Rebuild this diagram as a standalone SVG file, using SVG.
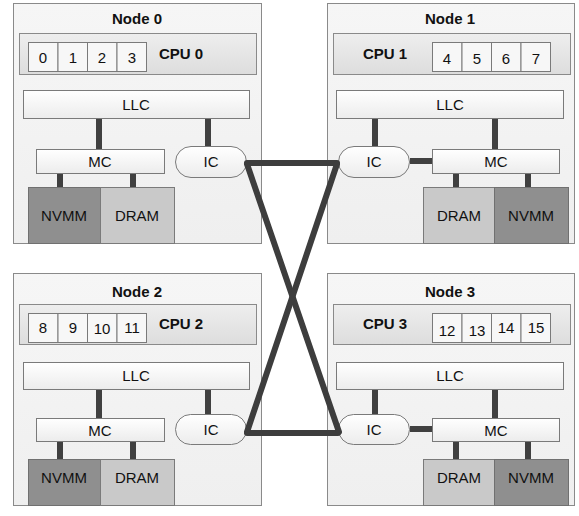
<svg xmlns="http://www.w3.org/2000/svg" width="579" height="516" viewBox="0 0 579 516">
<defs>
  <linearGradient id="gBox" x1="0" y1="0" x2="0" y2="1">
    <stop offset="0" stop-color="#ffffff"/>
    <stop offset="1" stop-color="#ececec"/>
  </linearGradient>
  <linearGradient id="gCpu" x1="0" y1="0" x2="0" y2="1">
    <stop offset="0" stop-color="#eeeeee"/>
    <stop offset="1" stop-color="#dddddd"/>
  </linearGradient>
  <linearGradient id="gNode" x1="0" y1="0" x2="0" y2="1">
    <stop offset="0" stop-color="#f6f6f6"/>
    <stop offset="1" stop-color="#efefef"/>
  </linearGradient>
</defs>
<style>
  .node { fill: url(#gNode); stroke: #8a8a8a; stroke-width: 1; }
  .cpu { fill: url(#gCpu); stroke: #8a8a8a; stroke-width: 1; }
  .box { fill: url(#gBox); stroke: #7a7a7a; stroke-width: 1; }
  .core { fill: #f7f7f7; stroke: #7a7a7a; stroke-width: 1; }
  .nvmm { fill: #8f8f8f; stroke: #707070; stroke-width: 1; }
  .dram { fill: #c9c9c9; stroke: #7a7a7a; stroke-width: 1; }
  text { font-family: "Liberation Sans", Arial, sans-serif; font-size: 15px; fill: #111111; text-anchor: middle; }
  .b { font-weight: bold; }
  .lnk { stroke: #404040; stroke-width: 6; fill: none; }
  .x { stroke: #3d3d3d; stroke-width: 6; fill: none; stroke-linecap: round; stroke-linejoin: round; }
</style>

<g id="node0">
  <rect class="node" x="13.5" y="3.5" width="248" height="240"/>
  <text class="b" x="137" y="24">Node 0</text>
  <rect class="cpu" x="19.5" y="33.5" width="237" height="41"/>
  <rect class="core" x="28.5" y="42.5" width="29.5" height="29"/>
  <rect class="core" x="58" y="42.5" width="29.5" height="29"/>
  <rect class="core" x="87.5" y="42.5" width="29.5" height="29"/>
  <rect class="core" x="117" y="42.5" width="29.5" height="29"/>
  <text x="43" y="63">0</text><text x="73" y="63">1</text><text x="102" y="63">2</text><text x="132" y="63">3</text>
  <text class="b" x="181" y="59">CPU 0</text>
  <rect class="box" x="23.5" y="90.5" width="226" height="28"/>
  <text x="136" y="110">LLC</text>
  <rect class="box" x="36.5" y="149.5" width="128" height="24"/>
  <text x="100" y="167">MC</text>
  <rect class="box" x="175.5" y="146.5" width="71" height="31" rx="15.5"/>
  <text x="211" y="167">IC</text>
  <rect class="nvmm" x="28.5" y="187.5" width="72" height="56"/>
  <text x="64" y="221">NVMM</text>
  <rect class="dram" x="100.5" y="187.5" width="74" height="56"/>
  <text x="137" y="221">DRAM</text>
</g>

<g id="node1">
  <rect class="node" x="327.5" y="3.5" width="247" height="240"/>
  <text class="b" x="450" y="24">Node 1</text>
  <rect class="cpu" x="333.5" y="33.5" width="237" height="41"/>
  <text class="b" x="385" y="59">CPU 1</text>
  <rect class="core" x="432.5" y="42.5" width="29.5" height="29"/>
  <rect class="core" x="462" y="42.5" width="29.5" height="29"/>
  <rect class="core" x="491.5" y="42.5" width="29.5" height="29"/>
  <rect class="core" x="521" y="42.5" width="29.5" height="29"/>
  <text x="447" y="64">4</text><text x="477" y="64">5</text><text x="506" y="64">6</text><text x="536" y="64">7</text>
  <rect class="box" x="336.5" y="90.5" width="227" height="28"/>
  <text x="450" y="110">LLC</text>
  <rect class="box" x="338.5" y="146.5" width="71" height="31" rx="15.5"/>
  <text x="374" y="167">IC</text>
  <rect class="box" x="432.5" y="149.5" width="127" height="24"/>
  <text x="496" y="167">MC</text>
  <rect class="dram" x="423.5" y="187.5" width="71" height="56"/>
  <text x="459" y="221">DRAM</text>
  <rect class="nvmm" x="494.5" y="187.5" width="74" height="56"/>
  <text x="531" y="221">NVMM</text>
</g>

<g id="node2">
  <rect class="node" x="13.5" y="273.5" width="248" height="232"/>
  <text class="b" x="137" y="297">Node 2</text>
  <rect class="cpu" x="19.5" y="304.5" width="237" height="40"/>
  <rect class="core" x="28.5" y="313.5" width="29.5" height="29"/>
  <rect class="core" x="58" y="313.5" width="29.5" height="29"/>
  <rect class="core" x="87.5" y="313.5" width="29.5" height="29"/>
  <rect class="core" x="117" y="313.5" width="29.5" height="29"/>
  <text x="43" y="333">8</text><text x="73" y="333">9</text><text x="102" y="334">10</text><text x="132" y="333">11</text>
  <text class="b" x="181" y="329">CPU 2</text>
  <rect class="box" x="23.5" y="362.5" width="226" height="27"/>
  <text x="136" y="381">LLC</text>
  <rect class="box" x="36.5" y="418.5" width="128" height="23"/>
  <text x="100" y="436">MC</text>
  <rect class="box" x="175.5" y="414.5" width="71" height="30" rx="15"/>
  <text x="211" y="435">IC</text>
  <rect class="nvmm" x="28.5" y="459.5" width="72" height="46"/>
  <text x="64" y="483">NVMM</text>
  <rect class="dram" x="100.5" y="459.5" width="74" height="46"/>
  <text x="137" y="483">DRAM</text>
</g>

<g id="node3">
  <rect class="node" x="327.5" y="273.5" width="247" height="232"/>
  <text class="b" x="450" y="297">Node 3</text>
  <rect class="cpu" x="333.5" y="304.5" width="237" height="40"/>
  <text class="b" x="385" y="329">CPU 3</text>
  <rect class="core" x="432.5" y="313.5" width="29.5" height="29"/>
  <rect class="core" x="462" y="313.5" width="29.5" height="29"/>
  <rect class="core" x="491.5" y="313.5" width="29.5" height="29"/>
  <rect class="core" x="521" y="313.5" width="29.5" height="29"/>
  <text x="447" y="336">12</text><text x="477" y="336">13</text><text x="506" y="333">14</text><text x="536" y="333">15</text>
  <rect class="box" x="336.5" y="362.5" width="227" height="27"/>
  <text x="450" y="381">LLC</text>
  <rect class="box" x="338.5" y="414.5" width="71" height="30" rx="15"/>
  <text x="374" y="435">IC</text>
  <rect class="box" x="432.5" y="418.5" width="127" height="23"/>
  <text x="496" y="436">MC</text>
  <rect class="dram" x="423.5" y="459.5" width="71" height="46"/>
  <text x="459" y="483">DRAM</text>
  <rect class="nvmm" x="494.5" y="459.5" width="74" height="46"/>
  <text x="531" y="483">NVMM</text>
</g>

<g id="connectors">
  <line class="lnk" x1="99" y1="119" x2="99" y2="149"/>
  <line class="lnk" x1="208" y1="119" x2="208" y2="146"/>
  <line class="lnk" x1="60" y1="174" x2="60" y2="187"/>
  <line class="lnk" x1="133" y1="174" x2="133" y2="187"/>
  <line class="lnk" x1="375" y1="119" x2="375" y2="146"/>
  <line class="lnk" x1="495" y1="119" x2="495" y2="149"/>
  <line class="lnk" x1="410" y1="161" x2="432" y2="161"/>
  <line class="lnk" x1="456" y1="174" x2="456" y2="187"/>
  <line class="lnk" x1="528" y1="174" x2="528" y2="187"/>
  <line class="lnk" x1="99" y1="390" x2="99" y2="418"/>
  <line class="lnk" x1="208" y1="390" x2="208" y2="414"/>
  <line class="lnk" x1="60" y1="442" x2="60" y2="459"/>
  <line class="lnk" x1="133" y1="442" x2="133" y2="459"/>
  <line class="lnk" x1="375" y1="390" x2="375" y2="414"/>
  <line class="lnk" x1="495" y1="390" x2="495" y2="418"/>
  <line class="lnk" x1="410" y1="429" x2="432" y2="429"/>
  <line class="lnk" x1="456" y1="442" x2="456" y2="459"/>
  <line class="lnk" x1="528" y1="442" x2="528" y2="459"/>
  <line class="x" x1="247" y1="163" x2="337" y2="163"/>
  <line class="x" x1="247" y1="433" x2="338" y2="433"/>
  <line class="x" x1="247" y1="164" x2="339" y2="432"/>
  <line class="x" x1="337" y1="164" x2="247" y2="432"/>
</g>
</svg>
